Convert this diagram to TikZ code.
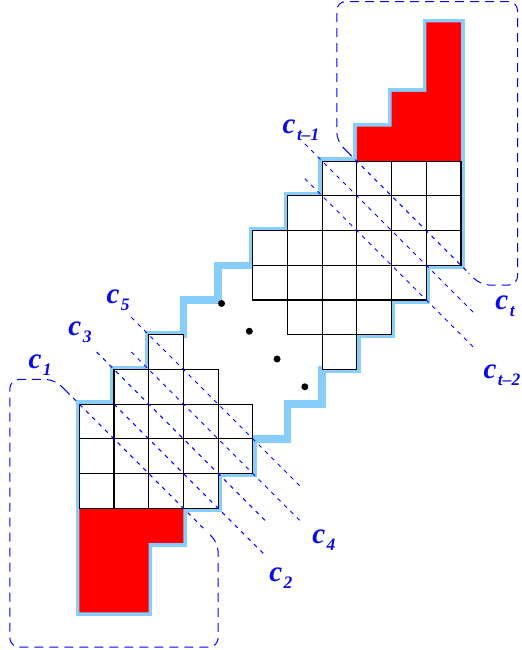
\documentclass[tikz,border=0pt]{standalone}
\usepackage{fontspec}
\setmainfont{Liberation Serif}
\definecolor{outline}{RGB}{135,206,250}
\definecolor{labblue}{RGB}{10,10,230}
\definecolor{dashblue}{RGB}{0,0,255}
\newcommand\clab[1]{{\fontsize{29}{29}\selectfont c}\kern1.5pt\raisebox{-7pt}{\fontsize{17.5}{17.5}\selectfont #1}}
\tikzset{
  cellbox/.style={draw=black, fill=white, line width=1.1pt},
  redfill/.style={fill=red, draw=none},
  blueoutline/.style={draw=outline, line width=7.5pt, line join=miter},
  diagline/.style={draw=dashblue, line width=1pt, dash pattern=on 4pt off 5pt},
  boxline/.style={draw=dashblue, line width=1pt, dash pattern=on 9pt off 6pt, rounded corners=9pt},
  lab/.style={text=labblue, font=\bfseries\itshape, inner sep=0pt},
  dotmark/.style={fill=black, draw=none}
}
\begin{document}
\begin{tikzpicture}[x=34.7pt,y=34.7pt]
\useasboundingbox (-2.285,-1.086) rectangle (12.758,17.646);

% light blue staircase outline
\draw[blueoutline] (0,0) -- (0,6) -- (1,6) -- (1,7) -- (2,7) -- (2,8) -- (3,8) -- (3,9) -- (4,9) -- (4,10) -- (5,10) -- (5,11) -- (6,11) -- (6,12) -- (7,12) -- (7,13) -- (8,13) -- (8,14) -- (9,14) -- (9,15) -- (10,15) -- (10,17) -- (11,17) -- (11,10) -- (10,10) -- (10,9) -- (9,9) -- (9,8) -- (8,8) -- (8,7) -- (7,7) -- (7,6) -- (6,6) -- (6,5) -- (5,5) -- (5,4) -- (4,4) -- (4,3) -- (3,3) -- (3,2) -- (2,2) -- (2,0) -- cycle;

% red regions
\fill[redfill] (0,0) -- (2,0) -- (2,2) -- (3,2) -- (3,3) -- (0,3) -- cycle;
\fill[redfill] (8,13) -- (11,13) -- (11,17) -- (10,17) -- (10,15) -- (9,15) -- (9,14) -- (8,14) -- cycle;

% grid cells
\foreach \r/\a/\b in {3/0/3, 4/0/4, 5/0/4, 6/1/3, 7/2/2, 7/7/7, 8/6/8, 9/5/9, 10/5/10, 11/6/10, 12/7/10}{
  \foreach \c in {\a,...,\b}{
    \draw[cellbox] (\c,\r) rectangle ++(1,1);
  }
}

% dashed diagonals
\coordinate (s7a) at (1,6);     \coordinate (s7b) at (5.4,1.6);
\coordinate (s8a) at (0.5,7.5); \coordinate (s8b) at (5.45,2.55);
\coordinate (s9a) at (1.5,7.5); \coordinate (s9b) at (6.45,2.55);
\coordinate (s10a) at (1.5,8.5); \coordinate (s10b) at (6.45,3.55);
\coordinate (s19a) at (6.5,12.5); \coordinate (s19b) at (11.45,7.55);
\coordinate (s20a) at (6.5,13.5); \coordinate (s20b) at (11.45,8.55);
\draw[diagline] (s7a) -- (s7b);
\draw[diagline] (s8a) -- (s8b);
\draw[diagline] (s9a) -- (s9b);
\draw[diagline] (s10a) -- (s10b);
\draw[diagline] (s19a) -- (s19b);
\draw[diagline] (s20a) -- (s20b);

% lower dashed region (c1)
\coordinate (l1) at (-0.36,6.36);
\coordinate (l2) at (3.65,2.35);
\draw[boxline] (l1) -- (-0.71,6.71) -- (-2,6.71) -- (-2,-1) -- (4,-1) -- (4,2) -- (l2);
\draw[diagline] (l1) -- (l2);

% upper dashed region (c_t)
\coordinate (u1) at (7.77,13.23);
\coordinate (u2) at (11.22,9.78);
\draw[boxline] (u1) -- (7.42,13.58) -- (7.42,17.6) -- (12.63,17.6) -- (12.63,9.43) -- (11.57,9.43) -- (u2);
\draw[diagline] (u1) -- (u2);

% dots
\fill[dotmark] (4.1,8.9) circle (3.5pt);
\fill[dotmark] (4.9,8.1) circle (3.5pt);
\fill[dotmark] (5.7,7.3) circle (3.5pt);
\fill[dotmark] (6.5,6.5) circle (3.5pt);

% labels
\node[lab] (c1) at (-1.13,7.12) {\clab{1}};
\node[lab] (c3) at (0.02,8.08) {\clab{3}};
\node[lab] (c5) at (1.12,9.0) {\clab{5}};
\node[lab] (c2) at (5.81,0.99) {\clab{2}};
\node[lab] (c4) at (7.05,2.08) {\clab{4}};
\node[lab] (ct) at (12.27,8.83) {\clab{t}};
\node[lab] (ctm1) at (6.39,13.9) {\clab{t\textendash1}};
\node[lab] (ctm2) at (12.18,6.84) {\clab{t\textendash2}};
\end{tikzpicture}
\end{document}
